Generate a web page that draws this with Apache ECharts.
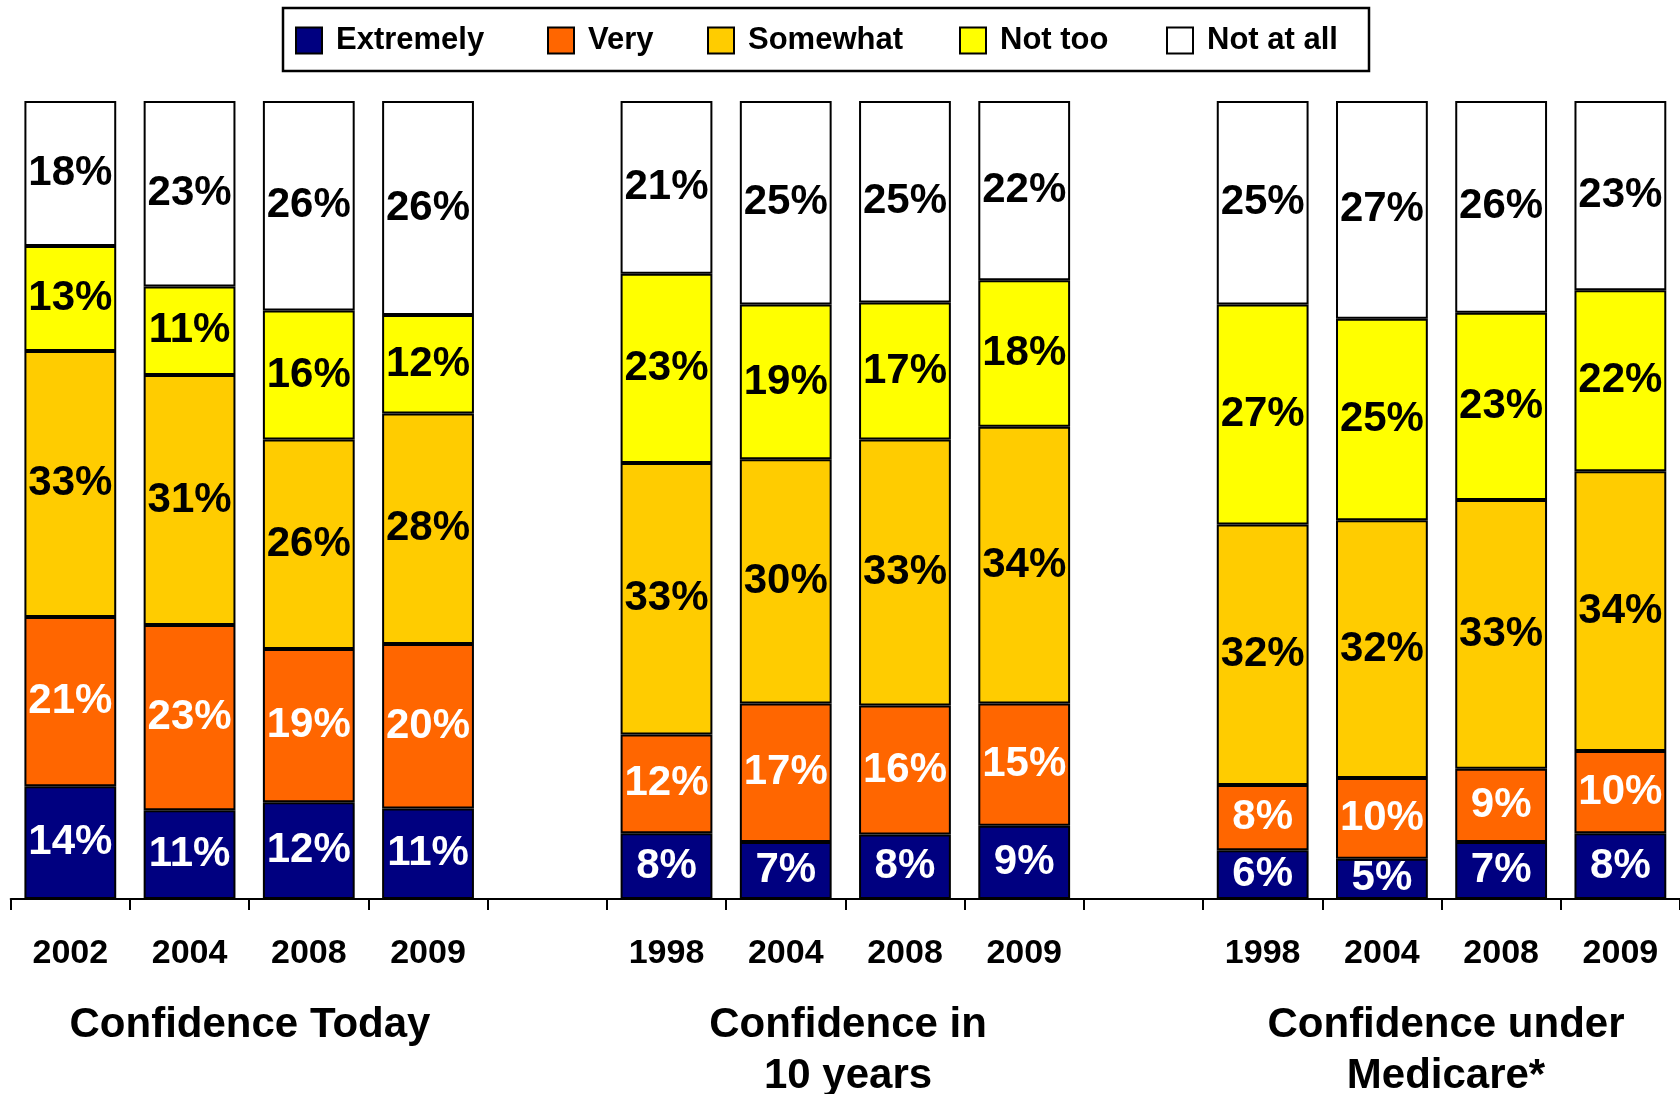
<!DOCTYPE html>
<html>
<head>
<meta charset="utf-8">
<title>Confidence</title>
<script src="https://cdn.jsdelivr.net/npm/echarts@6/dist/echarts.min.js"></script>
<style>
  html, body { margin: 0; padding: 0; background: #fff; }
  #chart { width: 1680px; height: 1094px; }
</style>
</head>
<body>
<div id="chart"></div>
<script>
// empty strings are the spacer slots between the three groups
var categories = ['2002', '2004', '2008', '2009', '', '1998', '2004', '2008', '2009', '', '1998', '2004', '2008', '2009']
var extremely = [14, 11, 12, 11, null, 8, 7, 8, 9, null, 6, 5, 7, 8]
var very = [21, 23, 19, 20, null, 12, 17, 16, 15, null, 8, 10, 9, 10]
var somewhat = [33, 31, 26, 28, null, 33, 30, 33, 34, null, 32, 32, 33, 34]
var notToo = [13, 11, 16, 12, null, 23, 19, 17, 18, null, 27, 25, 23, 22]
var notAtAll = [18, 23, 26, 26, null, 21, 25, 25, 22, null, 25, 27, 26, 23]
var groupTitles = ['Confidence Today', 'Confidence in\n10 years', 'Confidence under\nMedicare*']

var FONT = '"Liberation Sans", Arial, Helvetica, sans-serif'

var seriesDefs = [
  { name: 'Extremely', data: extremely, color: '#000080', text: '#fff' },
  { name: 'Very', data: very, color: '#FF6600', text: '#fff' },
  { name: 'Somewhat', data: somewhat, color: '#FFCC00', text: '#000' },
  { name: 'Not too', data: notToo, color: '#FFFF00', text: '#000' },
  { name: 'Not at all', data: notAtAll, color: '#FFFFFF', text: '#000' }
]

// bars are drawn as 100% stacks: each column is scaled to its own total
var totals = categories.map(function(c, i) {
  var t = 0
  seriesDefs.forEach(function(s) { t += s.data[i] || 0 })
  return t
})

var chart = echarts.init(document.getElementById('chart'))

var legendX = [295, 547, 707, 959, 1166]

chart.setOption({
  animation: false,
  textStyle: { fontFamily: FONT },
  legend: seriesDefs.map(function(s, i) {
    return {
      data: [s.name],
      left: legendX[i],
      top: 25,
      padding: 0,
      itemWidth: 26,
      itemHeight: 26,
      selectedMode: false,
      icon: 'rect',
      textStyle: {
        fontFamily: FONT,
        fontSize: 31,
        fontWeight: 'bold',
        color: '#000',
        padding: [0, 0, 0, 9]
      }
    }
  }),
  grid: {
    left: 10.7,
    top: 101,
    width: 1674.4,
    height: 798
  },
  xAxis: {
    type: 'category',
    data: categories,
    axisLine: { lineStyle: { color: '#000', width: 2 } },
    axisTick: { show: true, length: 11, lineStyle: { color: '#000', width: 2 } },
    axisLabel: {
      interval: 0,
      margin: 38,
      fontFamily: FONT,
      fontSize: 34,
      fontWeight: 'bold',
      color: '#000'
    }
  },
  yAxis: {
    type: 'value',
    min: 0,
    max: 100,
    show: false,
    splitLine: { show: false }
  },
  series: seriesDefs.map(function(s) {
    return {
      name: s.name,
      type: 'bar',
      stack: 'total',
      barWidth: '77%',
      itemStyle: { color: s.color, borderColor: '#000', borderWidth: 2 },
      label: {
        show: true,
        position: 'inside',
        fontFamily: FONT,
        fontSize: 42,
        fontWeight: 'bold',
        color: s.text,
        formatter: function(p) { return p.data.raw + '%' }
      },
      data: s.data.map(function(v, i) {
        if (v === null) return null
        return { value: v / totals[i] * 100, raw: v }
      })
    }
  }),
  graphic: [
    {
      type: 'rect',
      shape: { x: 283, y: 8, width: 1086, height: 63 },
      style: { fill: null, stroke: '#000', lineWidth: 2.5 },
      z: 0
    }
  ].concat(groupTitles.map(function(t, i) {
    return {
      type: 'text',
      x: [250, 848, 1446][i],
      y: 1000,
      style: {
        text: t,
        fontFamily: FONT,
        fontSize: 42,
        fontWeight: 'bold',
        lineHeight: 51,
        fill: '#000',
        textAlign: 'center',
        textVerticalAlign: 'top'
      }
    }
  }))
})
</script>
</body>
</html>
